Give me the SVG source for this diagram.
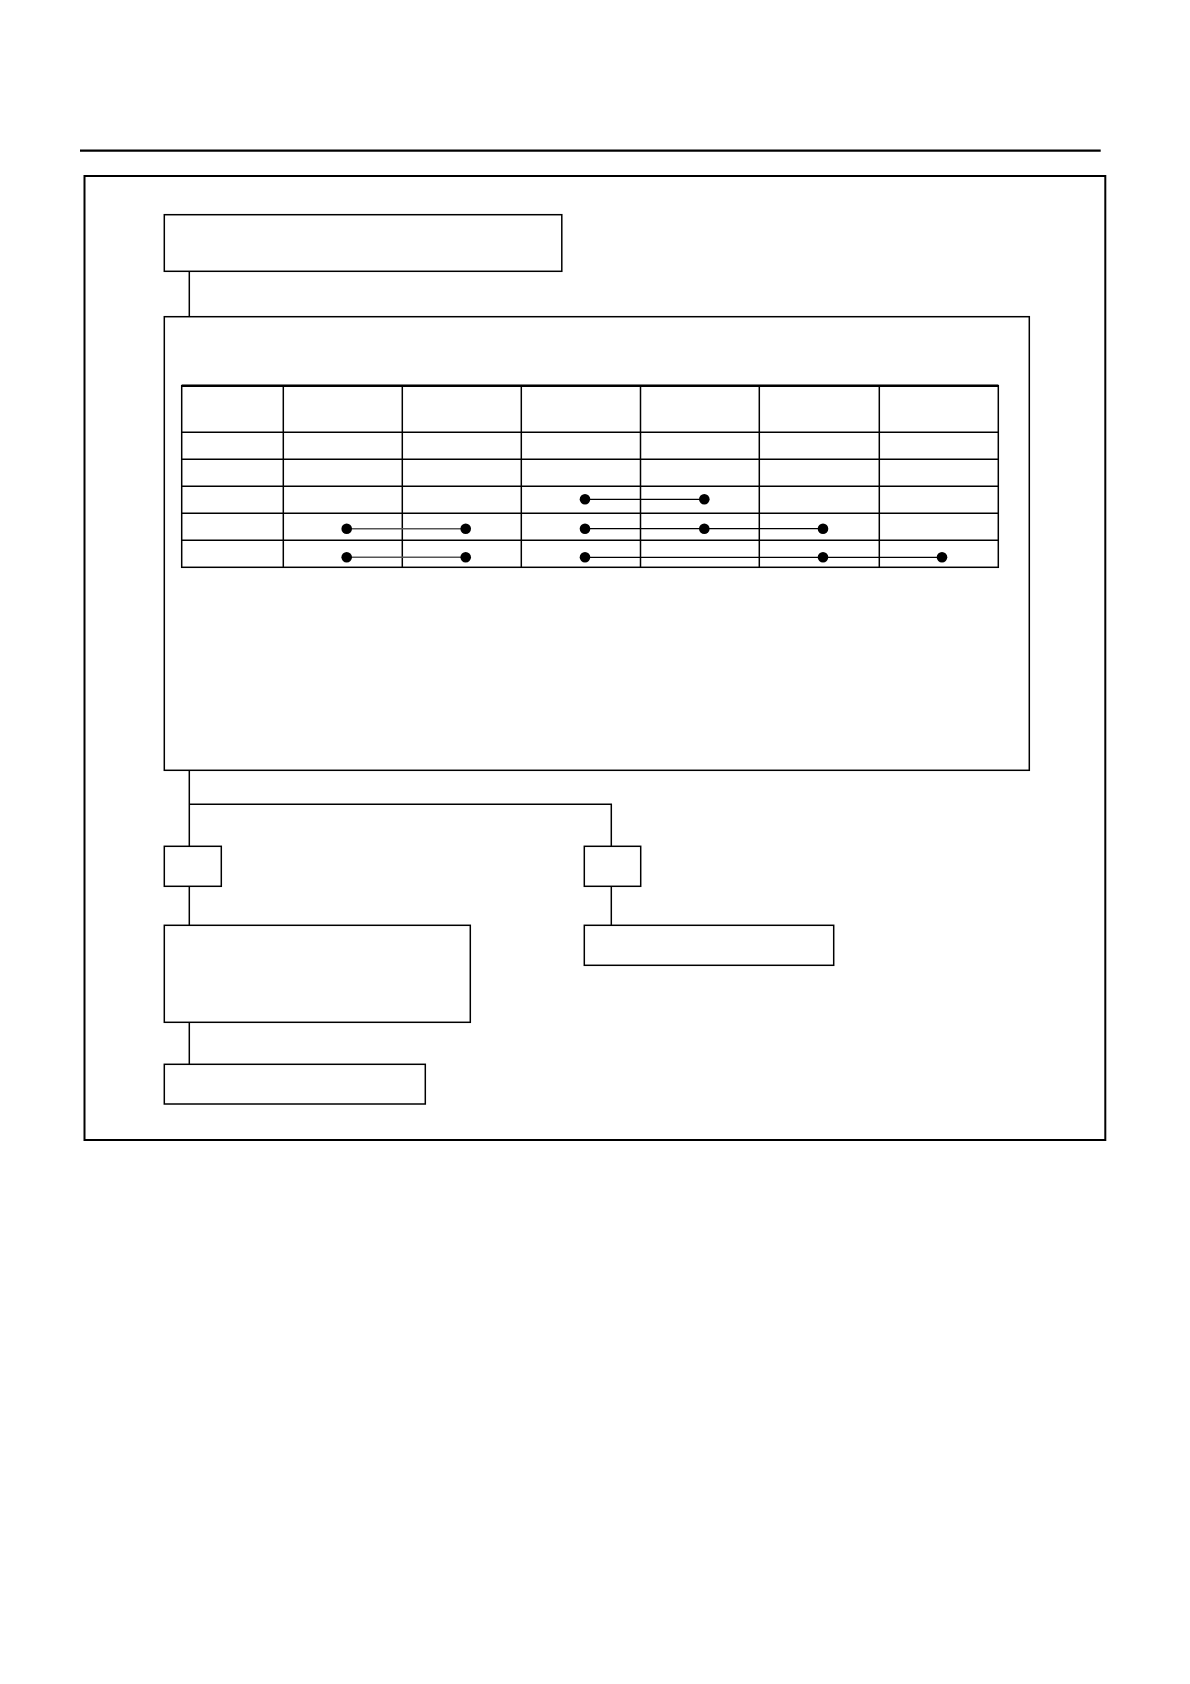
<svg xmlns="http://www.w3.org/2000/svg" width="1190" height="1684" viewBox="0 0 1190 1684">
  <style>
    .box { fill: #ffffff; stroke: #000000; stroke-width: 1.5; }
    .frame { fill: none; stroke: #000000; stroke-width: 2; }
    .conn { fill: none; stroke: #000000; stroke-width: 1.5; }
    .grid { fill: none; stroke: #000000; stroke-width: 1.5; }
    .link { fill: none; stroke: #000000; stroke-width: 1.2; }
    .glink { fill: none; stroke: #555555; stroke-width: 1.4; }
    .dot { fill: #000000; }
  </style>
  <rect x="0" y="0" width="1190" height="1684" fill="#ffffff"/>

  <g id="header-rule">
    <line x1="80" y1="150.7" x2="1100.7" y2="150.7" stroke="#000" stroke-width="2.2"/>
  </g>

  <g id="outer-frame">
    <rect class="frame" x="84.5" y="176" width="1020.8" height="964"/>
  </g>

  <g id="connectors">
    <line class="conn" x1="189.3" y1="271.3" x2="189.3" y2="316.7"/>
    <line class="conn" x1="189.3" y1="770.3" x2="189.3" y2="846.3"/>
    <polyline class="conn" points="189.3,804.3 611.3,804.3 611.3,846.3"/>
    <line class="conn" x1="189.3" y1="886.3" x2="189.3" y2="925.3"/>
    <line class="conn" x1="611.3" y1="886.3" x2="611.3" y2="925.3"/>
    <line class="conn" x1="189.3" y1="1022.3" x2="189.3" y2="1064.3"/>
  </g>

  <g id="node-top">
    <rect class="box" x="164.3" y="214.7" width="397.5" height="56.6"/>
  </g>

  <g id="node-main">
    <rect class="box" x="164.3" y="316.7" width="865" height="453.6"/>
    <g id="table">
      <rect class="grid" x="181.7" y="385.7" width="816.6" height="181.6"/>
      <line x1="181.7" y1="385.7" x2="998.3" y2="385.7" stroke="#000" stroke-width="2.4"/>
      <line class="grid" x1="283.3" y1="385.7" x2="283.3" y2="567.3"/>
      <line class="grid" x1="402.3" y1="385.7" x2="402.3" y2="567.3"/>
      <line class="grid" x1="521.3" y1="385.7" x2="521.3" y2="567.3"/>
      <line class="grid" x1="640.5" y1="385.7" x2="640.5" y2="567.3"/>
      <line class="grid" x1="759.3" y1="385.7" x2="759.3" y2="567.3"/>
      <line class="grid" x1="879.3" y1="385.7" x2="879.3" y2="567.3"/>
      <line class="grid" x1="181.7" y1="432.3" x2="998.3" y2="432.3"/>
      <line class="grid" x1="181.7" y1="459.3" x2="998.3" y2="459.3"/>
      <line class="grid" x1="181.7" y1="486.3" x2="998.3" y2="486.3"/>
      <line class="grid" x1="181.7" y1="513.3" x2="998.3" y2="513.3"/>
      <line class="grid" x1="181.7" y1="540.3" x2="998.3" y2="540.3"/>

      <!-- row 3 -->
      <line class="link" x1="585" y1="499.3" x2="704.3" y2="499.3"/>
      <circle class="dot" cx="585" cy="499.3" r="5.3"/>
      <circle class="dot" cx="704.3" cy="499.3" r="5.3"/>

      <!-- row 4 -->
      <line class="glink" x1="346.7" y1="528.7" x2="465.7" y2="528.7"/>
      <circle class="dot" cx="346.7" cy="528.7" r="5.3"/>
      <circle class="dot" cx="465.7" cy="528.7" r="5.3"/>
      <line class="link" x1="585" y1="528.7" x2="823" y2="528.7"/>
      <circle class="dot" cx="585" cy="528.7" r="5.3"/>
      <circle class="dot" cx="704.3" cy="528.7" r="5.3"/>
      <circle class="dot" cx="823" cy="528.7" r="5.3"/>

      <!-- row 5 -->
      <line class="glink" x1="346.7" y1="557.3" x2="465.7" y2="557.3"/>
      <circle class="dot" cx="346.7" cy="557.3" r="5.3"/>
      <circle class="dot" cx="465.7" cy="557.3" r="5.3"/>
      <line class="link" x1="585" y1="557.3" x2="942" y2="557.3"/>
      <circle class="dot" cx="585" cy="557.3" r="5.3"/>
      <circle class="dot" cx="823" cy="557.3" r="5.3"/>
      <circle class="dot" cx="942" cy="557.3" r="5.3"/>
    </g>
  </g>

  <g id="node-small-left">
    <rect class="box" x="164.3" y="846.3" width="57" height="40"/>
  </g>

  <g id="node-small-right">
    <rect class="box" x="584.3" y="846.3" width="56.4" height="40"/>
  </g>

  <g id="node-left">
    <rect class="box" x="164.3" y="925.3" width="306" height="97"/>
  </g>

  <g id="node-right">
    <rect class="box" x="584.3" y="925.3" width="249.4" height="40"/>
  </g>

  <g id="node-bottom">
    <rect class="box" x="164.3" y="1064.3" width="261" height="39.7"/>
  </g>
</svg>
